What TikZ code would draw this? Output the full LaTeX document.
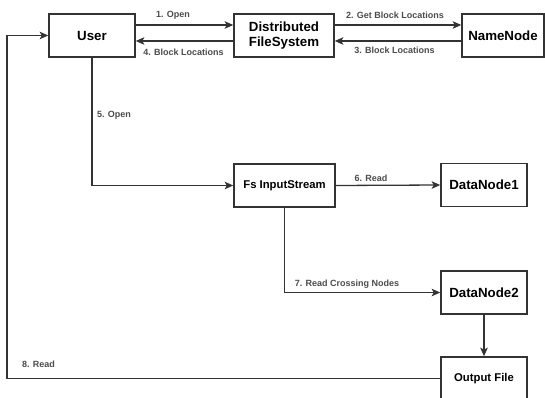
\documentclass[tikz,border=0pt]{standalone}
\usepackage{fontspec}
\setmainfont{Liberation Sans}
\usetikzlibrary{arrows.meta,calc}
\tikzset{
  box/.style={draw=black!80,line width=1.6pt,rectangle,minimum height=43pt,inner sep=0pt,align=center,font=\bfseries\fontsize{13.3}{14.5}\selectfont},
  smallbox/.style={box,font=\bfseries\fontsize{11.3}{13}\selectfont},
  arr/.style={draw=black!80,line width=1.3pt,-{Stealth[length=8.5pt,width=7.5pt,inset=2pt]}},
  lbl/.style={font=\bfseries\fontsize{9}{10}\selectfont,inner sep=0pt,text=black!70}
}
\begin{document}
\begin{tikzpicture}[x=1pt,y=-1pt]
\useasboundingbox[fill=white] (0,0) rectangle (545,398);
\node[box,minimum width=86pt] (user) at (92,35.5) {User};
\node[box,minimum width=100pt] (dfs) at (284,35.5) {Distributed\\FileSystem};
\node[box,minimum width=82pt] (nn) at (503,35.5) {NameNode};
\node[smallbox,minimum width=101pt] (fs) at (284.5,185.5) {Fs InputStream};
\node[box,minimum width=86pt] (dn1) at (484,185) {DataNode1};
\node[box,minimum width=86pt] (dn2) at (484,292.5) {DataNode2};
\node[smallbox,minimum width=86pt] (out) at (484,378.5) {Output File};
\coordinate (loop) at (7,378);

\draw[arr] ([yshift=10.5pt]user.east) -- ([yshift=10.5pt]dfs.west);
\draw[arr] ([yshift=-5.5pt]dfs.west) -- ([yshift=-5.5pt]user.east);
\draw[arr] ([yshift=10.5pt]dfs.east) -- ([yshift=10.5pt]nn.west);
\draw[arr] ([yshift=-5.5pt]nn.west) -- ([yshift=-5.5pt]dfs.east);
\draw[arr] (user.south) |- (fs.west);
\draw[arr] (fs.east) -- (dn1.west);
\draw[arr] (fs.south) |- (dn2.west);
\draw[arr] (dn2.south) -- (out.north);
\draw[arr] (out.west) -- (out.west -| loop) -- (loop |- user.west) -- (user.west);

\node[lbl] (l1) at (173,15) {1. Open};
\node[lbl] (l4) at (183.5,52) {4. Block Locations};
\node[lbl] (l2) at (395,15) {2. Get Block Locations};
\node[lbl] (l3) at (394.5,50) {3. Block Locations};
\node[lbl] (l5) at (114,115) {5. Open};
\node[lbl] (l6) at (371,178) {6. Read};
\node[lbl] (l7) at (347,284) {7. Read Crossing Nodes};
\node[lbl] (l8) at (38.5,364) {8. Read};
\end{tikzpicture}
\end{document}
